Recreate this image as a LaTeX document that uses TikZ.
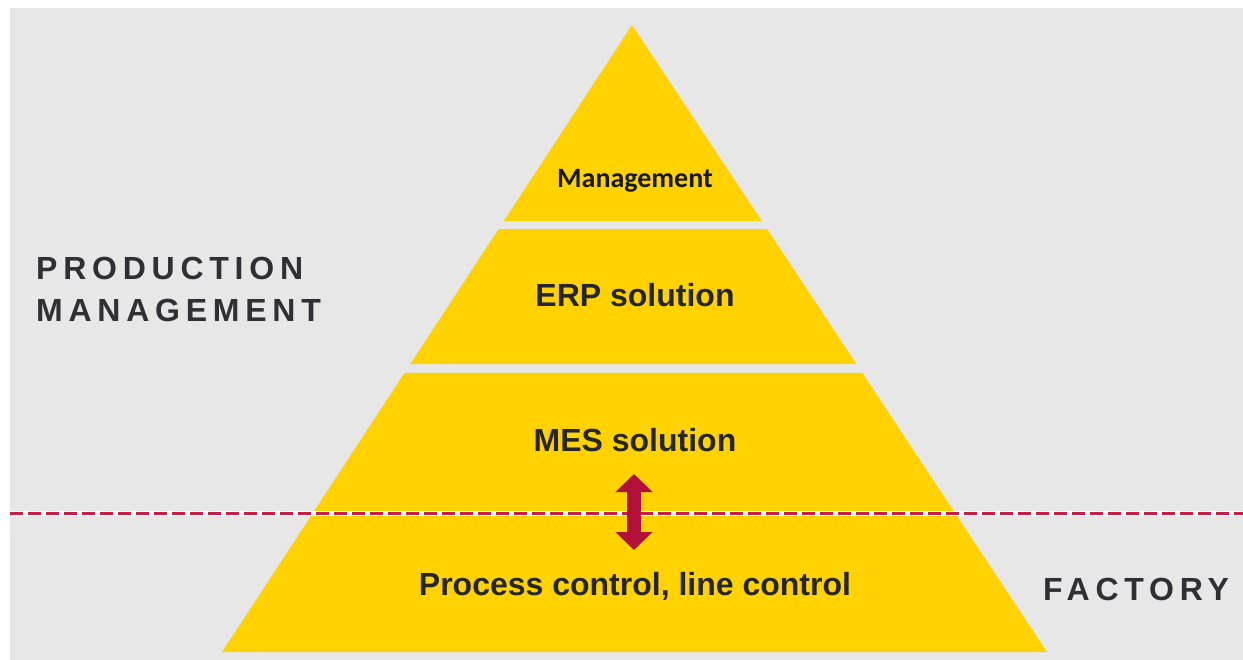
\documentclass[tikz,border=0pt]{standalone}
\usepackage{fontspec}
\setmainfont{Liberation Sans}
\newfontfamily\spacedfont[LetterSpace=18]{Liberation Sans}
\newfontfamily\calfont{Carlito}
\usetikzlibrary{calc,arrows.meta}
\definecolor{pyrYellow}{RGB}{255,210,0}
\definecolor{bgGray}{RGB}{231,231,231}
\definecolor{txtDark}{RGB}{38,38,38}
\definecolor{sideText}{RGB}{48,48,52}
\definecolor{arrowRed}{RGB}{178,16,56}
\definecolor{dashRed}{RGB}{196,32,72}
\begin{document}
\begin{tikzpicture}[x=1pt,y=-1pt,
	layer/.style={fill=pyrYellow},
	lvl/.style={font=\bfseries\fontsize{32}{38}\selectfont, text=txtDark, anchor=base, inner sep=0},
	side/.style={font=\spacedfont\bfseries\fontsize{32}{38}\selectfont, text=sideText, anchor=base west, inner sep=0}]
	\useasboundingbox (0,0) rectangle (1243,660);
	\fill[bgGray] (10,8) rectangle (1243,660);

	\coordinate (apex) at (632,25);
	\coordinate (bl) at (222,652);
	\coordinate (br) at (1047,652);

	% pyramid layers
	\foreach \a/\b in {0/0.3126, 0.3254/0.5407, 0.5550/0.7783, 0.7783/1}
		\fill[layer] ($(apex)!\a!(bl)$) -- ($(apex)!\b!(bl)$) -- ($(apex)!\b!(br)$) -- ($(apex)!\a!(br)$) -- cycle;

	\node[lvl, font=\calfont\bfseries\fontsize{28}{34}\selectfont, text=black!90] (mgmt) at (635,188) {Management};
	\node[lvl] (erp) at (635,307) {ERP solution};
	\node[lvl] (mes) at (635,451) {MES solution};
	\node[lvl] (proc) at (635,595) {Process control, line control};

	\node[side] (prod) at (36,280) {PRODUCTION};
	\node[side] (mgt) at (36,322) {MANAGEMENT};
	\node[side] (fact) at (1043,600) {FACTORY};

	% border between management and factory
	\coordinate (dashL) at (10,513);
	\coordinate (dashR) at (1243,513);
	\draw[white, line width=5] (dashL) -- (dashR);
	\draw[dashRed, line width=3, dash pattern=on 13 off 5] (dashL) -- (dashR);

	\coordinate (arrTop) at (634,474);
	\coordinate (arrBot) at (634,550);
	\draw[arrowRed, line width=14, {Triangle[width=36pt,length=18pt]}-{Triangle[width=36pt,length=18pt]}] (arrTop) -- (arrBot);
\end{tikzpicture}
\end{document}
